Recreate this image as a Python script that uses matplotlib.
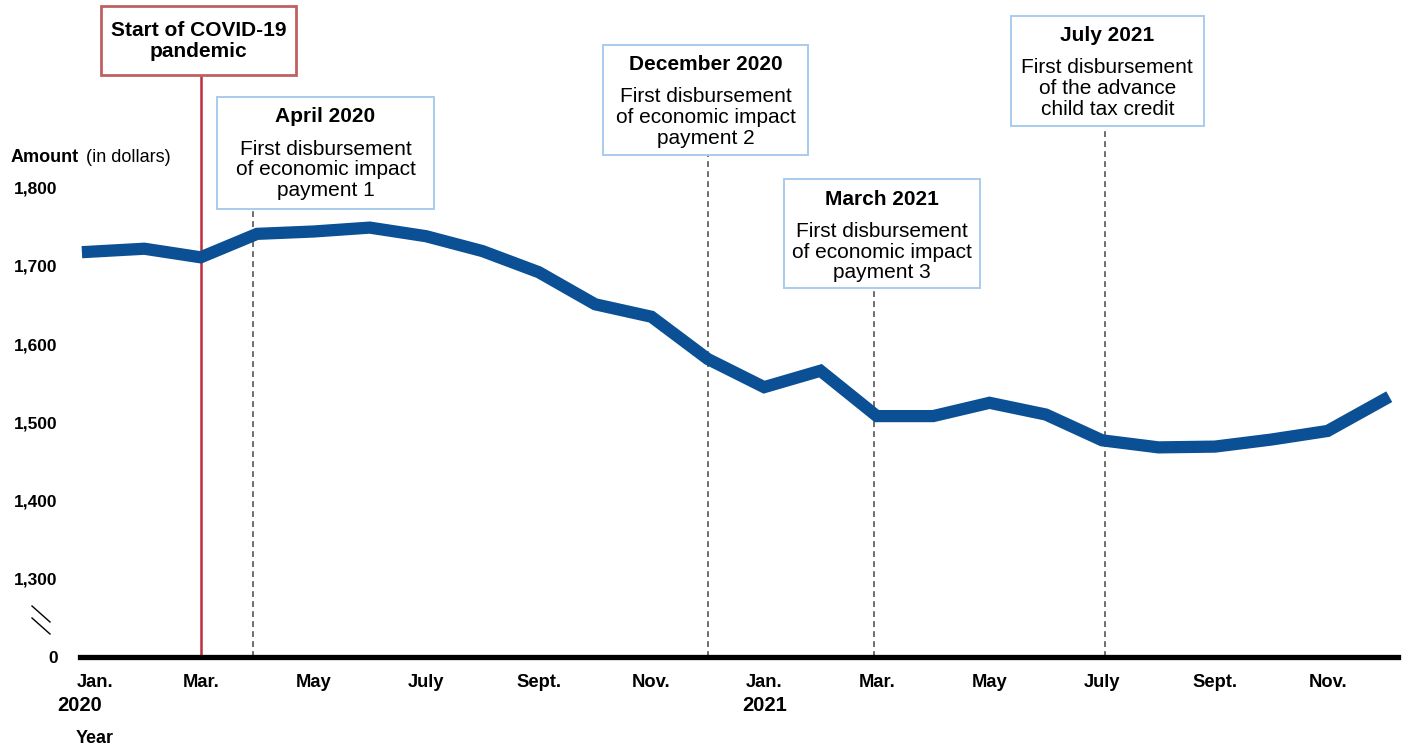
# Monthly amount line chart, Jan 2020 - Dec 2021, with event boxes

import matplotlib
matplotlib.use('Agg')
import matplotlib.pyplot as plt
from matplotlib.patches import Rectangle
from matplotlib.lines import Line2D
from matplotlib.transforms import ScaledTranslation

plt.rcParams['font.family'] = ['Liberation Sans', 'DejaVu Sans']

# data
amount = [1718, 1722, 1711, 1741, 1744, 1749, 1738, 1719, 1692, 1651, 1635, 1581,
          1545, 1566, 1508, 1508, 1525, 1510, 1477, 1468, 1469, 1478, 1489, 1529]
month_idx = list(range(len(amount)))
tick_pos = list(range(0, 24, 2))
tick_labels = ['Jan.', 'Mar.', 'May', 'July', 'Sept.', 'Nov.',
               'Jan.', 'Mar.', 'May', 'July', 'Sept.', 'Nov.']
ytick_pos = [1200, 1300, 1400, 1500, 1600, 1700, 1800]
ytick_labels = ['0', '1,300', '1,400', '1,500', '1,600', '1,700', '1,800']
years = ['2020', '2021']
year_pos = [-0.14, 12.0]

# event boxes: (x line, x0, x1, y bottom, y top, title, body)
events = [
    (2.93, 2.29, 6.14, 1773, 1916, 'April 2020', 'First disbursement\nof economic impact\npayment 1'),
    (11.0, 9.14, 12.78, 1842, 1983, 'December 2020', 'First disbursement\nof economic impact\npayment 2'),
    (13.95, 12.35, 15.83, 1672, 1811, 'March 2021', 'First disbursement\nof economic impact\npayment 3'),
    (18.05, 16.38, 19.80, 1879, 2020, 'July 2021', 'First disbursement\nof the advance\nchild tax credit'),
]

W, H = 1402, 751
fig = plt.figure(figsize=(W / 100, H / 100), dpi=100)
ax = fig.add_axes([80 / W, 1 - 657 / H, (1398 - 80) / W, 657 / H])
ax.set_xlim(-0.142, 23.25)
ax.set_ylim(1200, 2040)

for s in ['top', 'right', 'left']:
    ax.spines[s].set_visible(False)
ax.spines['bottom'].set_linewidth(3.8)
ax.spines['bottom'].set_color('black')
ax.spines['bottom'].set_zorder(5)

ax.plot(month_idx, amount, color='#0B5094', lw=8.8, solid_capstyle='projecting',
        solid_joinstyle='miter', zorder=4)

ax.set_xticks(tick_pos)
ax.set_xticklabels(tick_labels, fontsize=13.2, fontweight='bold')
ax.set_yticks(ytick_pos)
ax.set_yticklabels(ytick_labels, fontsize=12.5, fontweight='bold')
ax.tick_params(axis='x', length=0, pad=12.5)
ax.tick_params(axis='y', length=0, pad=16)
# first label sits a little right of its tick
lbl0 = ax.xaxis.get_major_ticks()[0].label1
lbl0.set_transform(lbl0.get_transform() + ScaledTranslation(7 / 100, 0, fig.dpi_scale_trans))

for yr, xp in zip(years, year_pos):
    ax.text(xp, 1138.6, yr, ha='center', va='center', fontsize=14.5,
            fontweight='bold', clip_on=False)
ax.text(0.11, 1096, 'Year', ha='center', va='center', fontsize=13,
        fontweight='bold', clip_on=False)

# y axis title
fig.text(11 / W, 1 - 157 / H, 'Amount', ha='left', va='center', fontsize=13,
         fontweight='bold')
fig.text(86 / W, 1 - 157 / H, '(in dollars)', ha='left', va='center', fontsize=13)

# axis break marks
for y0, y1 in [(606, 622), (618, 634)]:
    fig.add_artist(Line2D([32 / W, 50 / W], [1 - y0 / H, 1 - y1 / H],
                          color='black', lw=1.0))

# COVID start line and box
ax.plot([2.0, 2.0], [1200, 1944], color='#BD2E3A', lw=1.8, zorder=3)
ax.add_patch(Rectangle((0.23, 1944), 3.46, 88.5, facecolor='white',
                       edgecolor='#C06060', lw=2.0, zorder=6, clip_on=False))
ax.text(1.96, 1200 + 615.5 / 0.782, 'Start of COVID-19\npandemic', ha='center',
        va='center', fontsize=15, fontweight='bold', linespacing=1.12, zorder=7)

# event boxes
for xl, x0, x1, yb, yt, title, body in events:
    ax.plot([xl, xl], [1200, yb], color='#555555', lw=1.2, ls=(0, (3.5, 2.5)), zorder=3)
    ax.add_patch(Rectangle((x0, yb), x1 - x0, yt - yb, facecolor='white',
                           edgecolor='#A8CCEE', lw=1.4, zorder=6, clip_on=False))
    xc = (x0 + x1) / 2
    ax.text(xc, yt - 20 / 0.782, title, ha='center', va='center', fontsize=15,
            fontweight='bold', zorder=7)
    ax.text(xc, yt - 73 / 0.782, body, ha='center', va='center', fontsize=15,
            linespacing=1.12, zorder=7)

plt.savefig('out.png', dpi=100)
